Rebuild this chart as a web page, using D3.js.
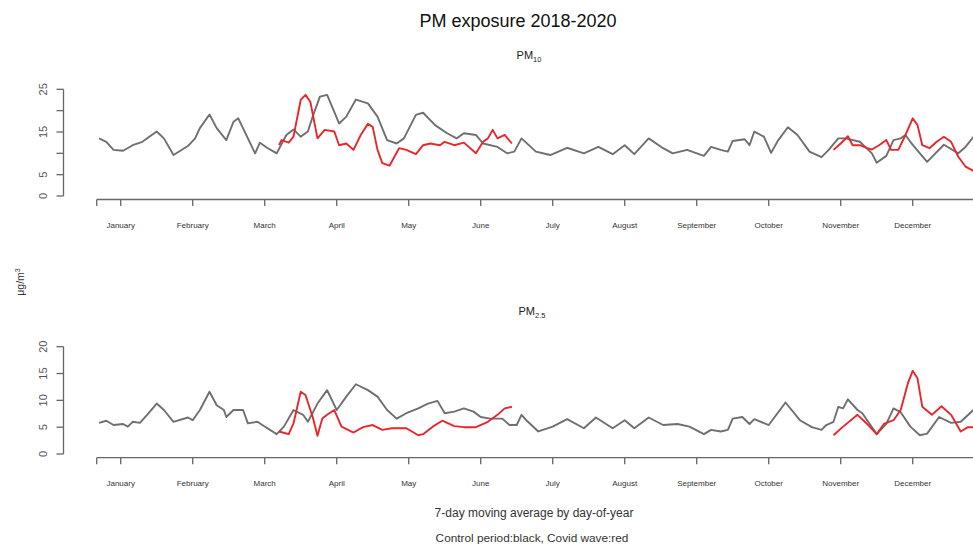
<!DOCTYPE html>
<html>
<head>
<meta charset="utf-8">
<script src="https://cdn.jsdelivr.net/npm/d3@7"></script>
<style>
body{margin:0;background:#fff;}
svg{display:block;font-family:"Liberation Sans",Arial,sans-serif;}
</style>
</head>
<body>
<svg id="chart" width="973" height="555"></svg>
<script>
// ---- data (day-of-year, value) ----
const pm10Control = [[1,13.5],[4,12.7],[7,10.8],[11,10.6],[15,11.9],[19,12.7],[25,15.1],[28,13.5],[32,9.6],[38,11.7],[41,13.5],[43,15.9],[47,19.1],[50,15.9],[54,13.1],[57,17.4],[59,18.2],[63,13.5],[66,10.0],[68,12.5],[71,11.3],[75,10.0],[79,14.3],[82,15.6],[85,13.9],[88,15.1],[90,18.6],[93,23.3],[96,23.7],[101,17.0],[104,18.6],[108,22.6],[113,21.7],[117,18.6],[121,13.1],[125,12.3],[128,13.5],[133,19.0],[136,19.5],[141,16.6],[146,14.7],[150,13.5],[153,14.7],[158,14.3],[161,12.3],[167,11.5],[171,10.0],[174,10.4],[177,13.5],[183,10.4],[189,9.6],[196,11.3],[203,10.0],[209,11.5],[215,9.8],[220,11.9],[224,9.8],[230,13.5],[236,11.2],[240,10.0],[246,10.8],[253,9.4],[256,11.5],[260,10.8],[263,10.4],[265,12.9],[270,13.3],[272,11.9],[274,15.1],[278,13.9],[281,10.1],[284,13.1],[288,16.1],[292,14.3],[297,10.4],[302,9.1],[305,10.8],[309,13.5],[312,13.5],[318,12.7],[323,10.0],[325,7.8],[329,9.4],[332,13.1],[335,13.5],[337,14.3],[339,12.7],[343,10.0],[346,8.0],[353,12.0],[359,10.0],[362,11.5],[366,14.3]];
const pm10Covid1 = [[76,11.9],[77,13.1],[80,12.5],[82,13.9],[85,22.5],[87,23.7],[89,22.1],[92,13.5],[95,15.5],[99,15.1],[101,11.9],[104,12.3],[107,10.8],[110,14.3],[113,16.9],[115,16.2],[117,10.8],[119,7.7],[122,7.1],[126,11.2],[129,10.8],[133,9.8],[136,11.9],[139,12.3],[143,11.9],[145,12.7],[149,11.9],[153,12.5],[158,10.0],[161,12.7],[163,13.5],[165,15.5],[167,13.5],[170,14.3],[173,12.3]];
const pm10Covid2 = [[307,10.8],[310,12.3],[313,14.0],[315,11.9],[318,11.9],[321,11.2],[323,10.9],[326,11.9],[329,13.1],[331,10.8],[334,10.8],[337,14.3],[340,18.2],[342,16.6],[344,11.9],[347,11.2],[350,12.7],[353,13.9],[356,12.7],[359,9.2],[362,6.9],[366,5.7]];
const pm25Control = [[1,5.8],[4,6.2],[7,5.4],[11,5.6],[13,5.1],[15,6.0],[18,5.8],[21,7.3],[25,9.4],[28,8.2],[32,6.0],[38,6.8],[40,6.3],[43,8.2],[47,11.6],[50,9.1],[53,8.2],[54,6.9],[57,8.2],[61,8.2],[63,5.7],[67,6.0],[69,5.4],[75,3.7],[78,5.1],[82,8.2],[86,7.3],[88,6.0],[92,9.4],[96,11.9],[100,8.2],[104,10.7],[108,13.0],[113,11.9],[117,10.7],[121,8.2],[125,6.6],[129,7.6],[134,8.5],[138,9.4],[142,9.9],[145,7.6],[149,7.9],[153,8.5],[157,7.9],[160,6.9],[164,6.6],[169,6.6],[172,5.4],[175,5.4],[177,7.3],[179,6.3],[184,4.2],[190,5.1],[196,6.5],[203,4.8],[208,6.8],[215,4.8],[220,6.3],[224,4.8],[230,6.8],[236,5.4],[242,5.6],[247,5.1],[253,3.7],[256,4.5],[260,4.2],[263,4.5],[265,6.6],[269,6.9],[272,5.6],[274,6.5],[280,5.4],[287,9.6],[293,6.3],[298,5.0],[302,4.5],[304,5.4],[307,6.0],[309,8.8],[311,8.5],[313,10.2],[317,8.2],[319,7.6],[325,3.7],[329,5.6],[332,8.5],[335,7.8],[339,5.1],[343,3.5],[346,3.8],[351,6.9],[356,5.8],[360,6.0],[366,8.5]];
const pm25Covid1 = [[76,4.2],[80,3.7],[82,5.7],[85,11.6],[87,11.0],[90,6.9],[92,3.4],[94,6.6],[96,7.3],[99,8.2],[102,5.1],[107,4.0],[111,5.0],[115,5.4],[119,4.5],[123,4.8],[129,4.8],[134,3.5],[136,3.7],[140,5.1],[144,6.2],[149,5.2],[153,5.0],[158,5.0],[163,6.0],[167,7.3],[170,8.5],[173,8.8]];
const pm25Covid2 = [[307,3.5],[311,5.1],[317,7.3],[321,5.6],[325,3.7],[328,5.6],[332,6.3],[335,8.2],[338,13.2],[340,15.5],[342,14.1],[344,8.8],[348,7.3],[352,8.9],[356,7.3],[360,4.2],[363,5.0],[366,5.0]];

const monthTickDays = [0,10,40,70,100,130,160,190,220,250,280,310,340];
const monthLabels = ["","January","February","March","April","May","June","July","August","September","October","November","December"];
const pm10Ticks = [0,5,10,15,20,25];
const pm10TickLabels = ["0","5","","15","","25"];
const pm25Ticks = [0,5,10,15,20];
const pm25TickLabels = ["0","5","10","15","20"];

const titleText = "PM exposure 2018-2020";
const xLabelText = "7-day moving average by day-of-year";
const noteText = "Control period:black, Covid wave:red";

// ---- drawing ----
const svg = d3.select("#chart");
const axisColor = "#666";
const grayCol = "#6f6f6f";
const redCol = "#e8262b";

const x = d3.scaleLinear().domain([0, 365]).range([96.7, 96.7 + 365*2.4]);

function panel(opts){
  const y = d3.scaleLinear().domain(opts.yDomain).range(opts.yRange);
  const g = svg.append("g");
  const yAxisX = 63.5;
  g.append("line").attr("x1",yAxisX).attr("x2",yAxisX)
    .attr("y1",y(opts.ticks[0])).attr("y2",y(opts.ticks[opts.ticks.length-1]))
    .attr("stroke",axisColor).attr("stroke-width",1.3);
  opts.ticks.forEach((t,i)=>{
    g.append("line").attr("x1",yAxisX-7).attr("x2",yAxisX)
      .attr("y1",y(t)).attr("y2",y(t)).attr("stroke",axisColor).attr("stroke-width",1.3);
    if(opts.tickLabels[i]) g.append("text")
      .attr("transform",`translate(${yAxisX-20},${y(t)}) rotate(-90)`)
      .attr("text-anchor","middle").attr("dy","0.35em")
      .attr("font-size",11).attr("fill","#555").text(opts.tickLabels[i]);
  });
  const ax = opts.xAxisY;
  g.append("line").attr("x1",x(monthTickDays[0])).attr("x2",973)
    .attr("y1",ax).attr("y2",ax).attr("stroke",axisColor).attr("stroke-width",1.3);
  monthTickDays.forEach((d,i)=>{
    g.append("line").attr("x1",x(d)).attr("x2",x(d)).attr("y1",ax).attr("y2",ax+6.5)
      .attr("stroke",axisColor).attr("stroke-width",1.3);
    if(monthLabels[i]) g.append("text").attr("x",x(d)).attr("y",ax+28.5)
      .attr("text-anchor","middle").attr("font-size",8).attr("fill","#333")
      .text(monthLabels[i]);
  });
  const line = d3.line().x(d=>x(d[0])).y(d=>y(d[1]));
  g.append("path").datum(opts.control).attr("d",line).attr("fill","none")
    .attr("stroke",grayCol).attr("stroke-width",1.9).attr("stroke-linejoin","round");
  opts.covid.forEach(s=>{
    g.append("path").datum(s).attr("d",line).attr("fill","none")
      .attr("stroke",redCol).attr("stroke-width",1.9).attr("stroke-linejoin","round");
  });
  const st = g.append("text").attr("x",opts.subX).attr("y",opts.subY)
    .attr("text-anchor","middle").attr("font-size",11).attr("fill","#222");
  st.append("tspan").text("PM");
  st.append("tspan").attr("font-size",7.5).attr("dy",2.5).text(opts.sub);
}

panel({yDomain:[0,25], yRange:[196,89.3], ticks:pm10Ticks, tickLabels:pm10TickLabels,
  xAxisY:199.5, control:pm10Control, covid:[pm10Covid1,pm10Covid2], sub:"10", subX:529, subY:59});
panel({yDomain:[0,20], yRange:[454,346.7], ticks:pm25Ticks, tickLabels:pm25TickLabels,
  xAxisY:457.7, control:pm25Control, covid:[pm25Covid1,pm25Covid2], sub:"2.5", subX:532, subY:315});

svg.append("text").attr("x",518).attr("y",27).attr("text-anchor","middle")
  .attr("font-size",18).attr("fill","#111").text(titleText);
svg.append("text").attr("x",534).attr("y",517).attr("text-anchor","middle")
  .attr("font-size",12).attr("fill","#333").text(xLabelText);
svg.append("text").attr("x",532).attr("y",542).attr("text-anchor","middle")
  .attr("font-size",11.8).attr("fill","#333").text(noteText);
const yl = svg.append("text").attr("transform","translate(24,282) rotate(-90)")
  .attr("text-anchor","middle").attr("font-size",10.5).attr("fill","#333");
yl.append("tspan").text("μg/m");
yl.append("tspan").attr("font-size",7).attr("dy",-4).text("3");
</script>
</body>
</html>
